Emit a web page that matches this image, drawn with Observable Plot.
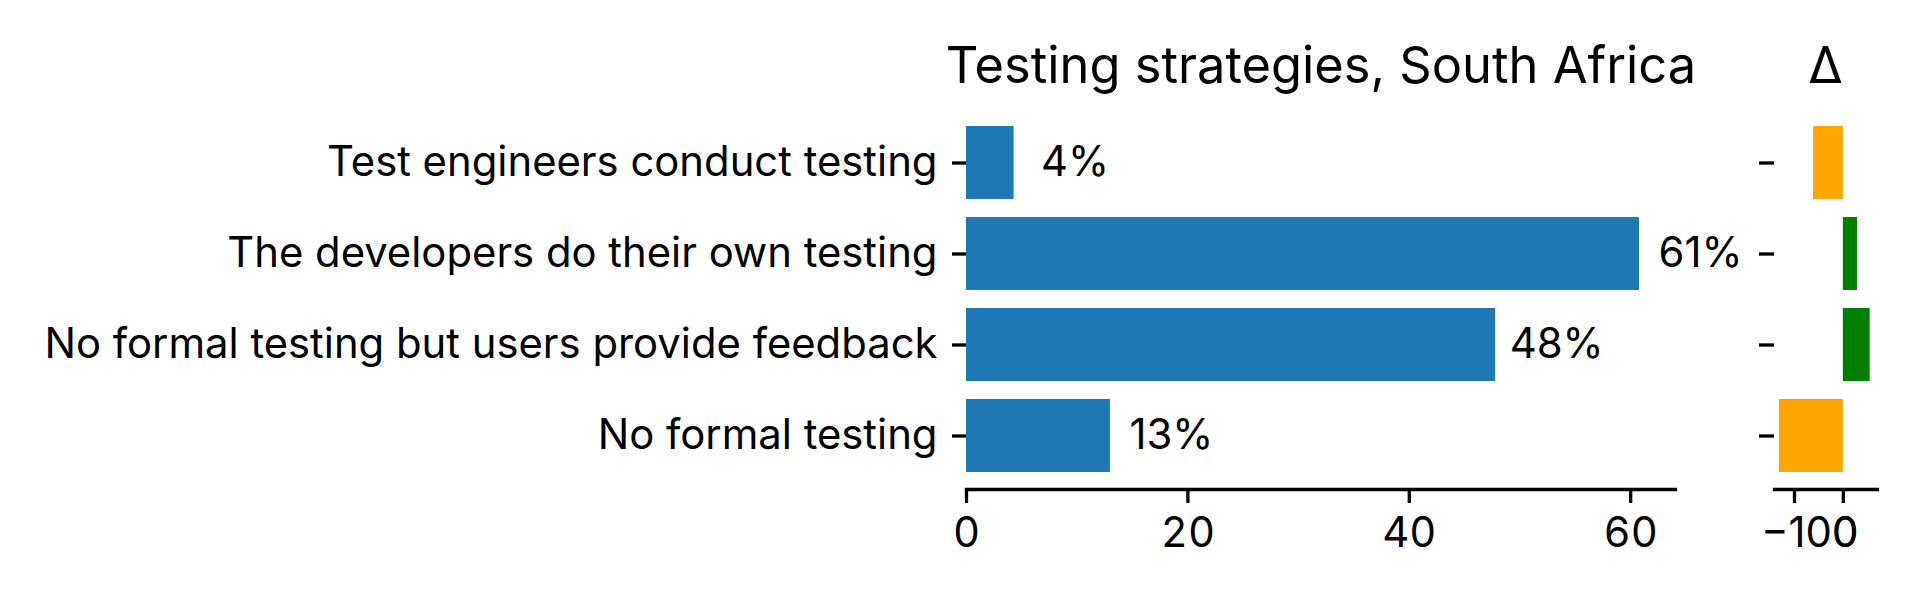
<!DOCTYPE html>
<html><head><meta charset="utf-8">
<script src="https://cdn.jsdelivr.net/npm/d3@7"></script>
<script src="https://cdn.jsdelivr.net/npm/@observablehq/plot@0.6"></script>
<style>
body{margin:0;background:#fff;}
#wrap{position:relative;width:1920px;height:600px;font-family:Inter, sans-serif;overflow:hidden;}
.t{position:absolute;top:40px;font-size:50.6px;line-height:50px;white-space:nowrap;transform:translateX(-50%);color:#000;}
#wrap svg{position:absolute;top:0;overflow:visible;}
</style></head><body><div id="wrap"></div>
<script>
const categories = [
  "Test engineers conduct testing",
  "The developers do their own testing",
  "No formal testing but users provide feedback",
  "No formal testing"
];
const shares = [4.3, 60.8, 47.8, 13.0];
const shareLabels = ["4%", "61%", "48%", "13%"];
const deltas = [-61, 29, 55, -131];
const xTicks = [0, 20, 40, 60];
const deltaTicks = [-100, 0];
const title = "Testing strategies, South Africa";
const deltaTitle = "Δ";

const rows = categories.map((c, i) => ({category: c, share: shares[i], label: shareLabels[i], delta: deltas[i]}));
const FS = 41.8, LW = 3.3;
const fmt = d3.format("");
const font = {fontFamily: "Inter, sans-serif", fontSize: FS + "px", background: "transparent", color: "#000", overflow: "visible"};

const main = Plot.plot({
  width: 1760, height: 600, marginTop: 108, marginBottom: 111, marginLeft: 966, marginRight: 85,
  style: font,
  x: {domain: [0, 64.05]},
  y: {domain: categories, paddingInner: 0.2, paddingOuter: 0.19},
  marks: [
    Plot.barX(rows, {x: "share", y: "category", fill: "#1f77b4"}),
    Plot.text(rows, {x: "share", y: "category", text: "label", dx: 61, textAnchor: "middle", fill: "#000", fontSize: FS}),
    Plot.frame({anchor: "bottom", stroke: "#000", strokeWidth: LW}),
    Plot.axisX({ticks: xTicks, tickSize: 14, tickPadding: 14, strokeWidth: LW, label: null, fontSize: FS}),
    Plot.axisY({tickSize: 14, tickPadding: 15, strokeWidth: LW, label: null, fontSize: FS})
  ]
});
main.style.left = "0px";

const delta = Plot.plot({
  width: 220, height: 600, marginTop: 108, marginBottom: 111, marginLeft: 74, marginRight: 43,
  style: font,
  x: {domain: [-141, 70]},
  y: {domain: categories, paddingInner: 0.2, paddingOuter: 0.19},
  marks: [
    Plot.barX(rows, {x: "delta", y: "category", fill: d => d.delta < 0 ? "orange" : "green"}),
    Plot.frame({anchor: "bottom", stroke: "#000", strokeWidth: LW}),
    Plot.axisX({ticks: deltaTicks, tickSize: 14, tickFormat: () => "", strokeWidth: LW, label: null}),
    Plot.text(deltaTicks, {x: () => deltaTicks[deltaTicks.length - 1], text: d => fmt(d), textAnchor: "end", dx: 15,
      frameAnchor: "bottom", lineAnchor: "top", dy: 28, fontSize: FS, fill: "#000"}),
    Plot.axisY({tickSize: 15, tickFormat: () => "", strokeWidth: LW, label: null})
  ]
});
delta.style.left = "1700px";

const wrap = document.getElementById("wrap");
wrap.appendChild(main);
wrap.appendChild(delta);
const t1 = document.createElement("div"); t1.className = "t"; t1.style.left = "1321px"; t1.textContent = title; wrap.appendChild(t1);
const t2 = document.createElement("div"); t2.className = "t"; t2.style.left = "1825.5px"; t2.textContent = deltaTitle; wrap.appendChild(t2);
</script></body></html>
